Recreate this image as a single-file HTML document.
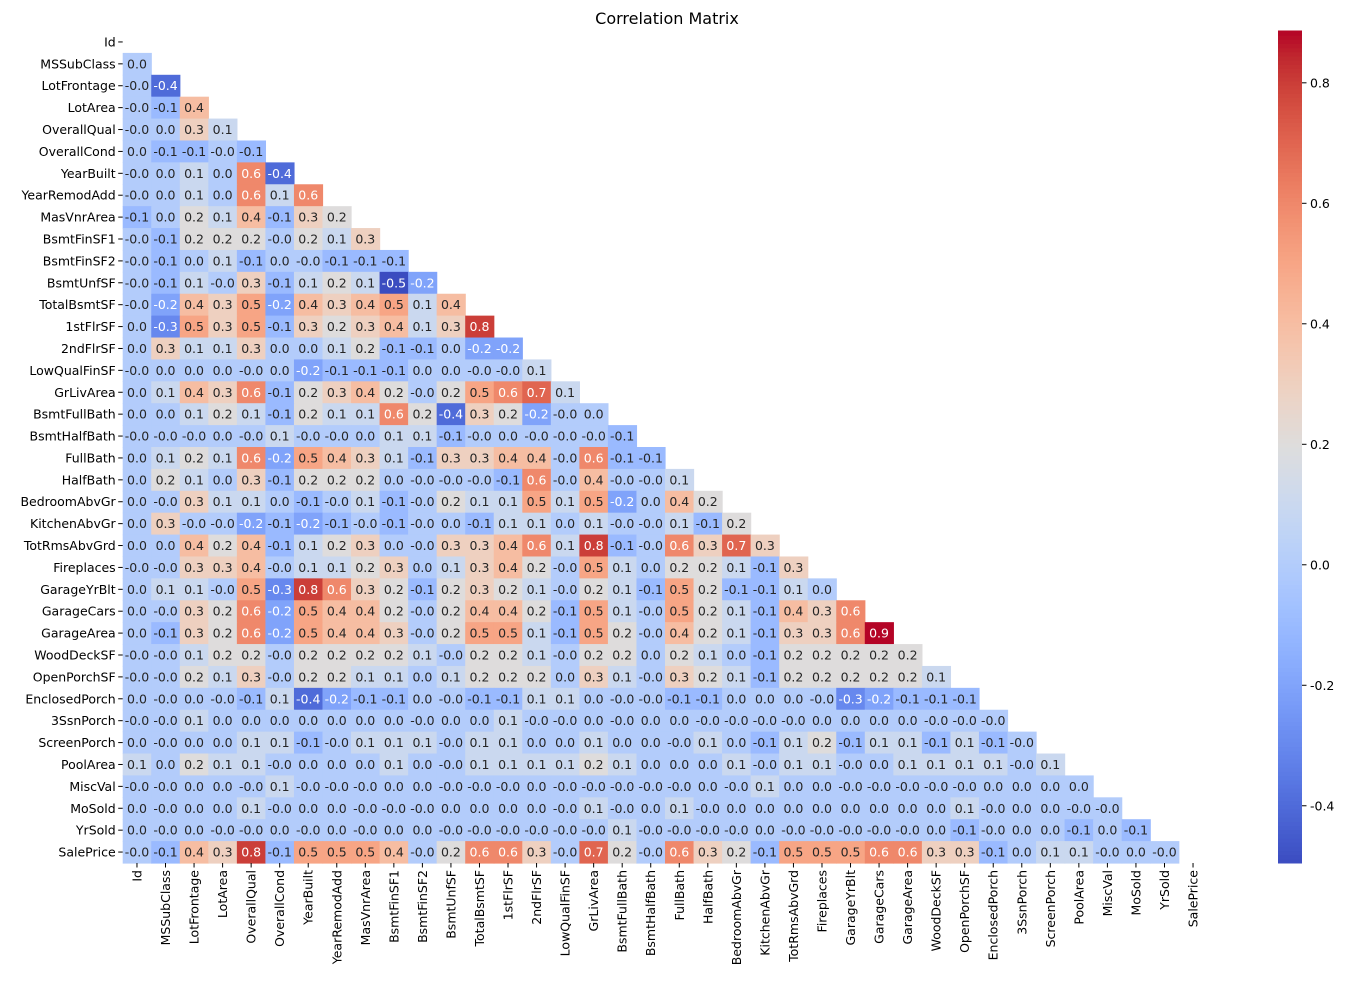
<!DOCTYPE html>
<html><head><meta charset="utf-8"><style>
body{margin:0;background:#fff;font-family:"Liberation Sans","DejaVu Sans",sans-serif}
svg text{font-family:"DejaVu Sans","Liberation Sans",sans-serif}
</style></head><body>
<svg id="chart" width="1371" height="989" xmlns="http://www.w3.org/2000/svg">
<text x="667" y="24" text-anchor="middle" font-size="16">Correlation Matrix</text>
</svg>
<script>
const labels=["Id","MSSubClass","LotFrontage","LotArea","OverallQual","OverallCond","YearBuilt","YearRemodAdd","MasVnrArea","BsmtFinSF1","BsmtFinSF2","BsmtUnfSF","TotalBsmtSF","1stFlrSF","2ndFlrSF","LowQualFinSF","GrLivArea","BsmtFullBath","BsmtHalfBath","FullBath","HalfBath","BedroomAbvGr","KitchenAbvGr","TotRmsAbvGrd","Fireplaces","GarageYrBlt","GarageCars","GarageArea","WoodDeckSF","OpenPorchSF","EnclosedPorch","3SsnPorch","ScreenPorch","PoolArea","MiscVal","MoSold","YrSold","SalePrice"];
const r1=[0.0];
const r2=[-0.0,-0.4];
const r3=[-0.0,-0.1,0.4];
const r4=[-0.0,0.0,0.3,0.1];
const r5=[0.0,-0.1,-0.1,-0.0,-0.1];
const r6=[-0.0,0.0,0.1,0.0,0.6,-0.4];
const r7=[-0.0,0.0,0.1,0.0,0.6,0.1,0.6];
const r8=[-0.1,0.0,0.2,0.1,0.4,-0.1,0.3,0.2];
const r9=[-0.0,-0.1,0.2,0.2,0.2,-0.0,0.2,0.1,0.3];
const r10=[-0.0,-0.1,0.0,0.1,-0.1,0.0,-0.0,-0.1,-0.1,-0.1];
const r11=[-0.0,-0.1,0.1,-0.0,0.3,-0.1,0.1,0.2,0.1,-0.5,-0.2];
const r12=[-0.0,-0.2,0.4,0.3,0.5,-0.2,0.4,0.3,0.4,0.5,0.1,0.4];
const r13=[0.0,-0.3,0.5,0.3,0.5,-0.1,0.3,0.2,0.3,0.4,0.1,0.3,0.8];
const r14=[0.0,0.3,0.1,0.1,0.3,0.0,0.0,0.1,0.2,-0.1,-0.1,0.0,-0.2,-0.2];
const r15=[-0.0,0.0,0.0,0.0,-0.0,0.0,-0.2,-0.1,-0.1,-0.1,0.0,0.0,-0.0,-0.0,0.1];
const r16=[0.0,0.1,0.4,0.3,0.6,-0.1,0.2,0.3,0.4,0.2,-0.0,0.2,0.5,0.6,0.7,0.1];
const r17=[0.0,0.0,0.1,0.2,0.1,-0.1,0.2,0.1,0.1,0.6,0.2,-0.4,0.3,0.2,-0.2,-0.0,0.0];
const r18=[-0.0,-0.0,-0.0,0.0,-0.0,0.1,-0.0,-0.0,0.0,0.1,0.1,-0.1,-0.0,0.0,-0.0,-0.0,-0.0,-0.1];
const r19=[0.0,0.1,0.2,0.1,0.6,-0.2,0.5,0.4,0.3,0.1,-0.1,0.3,0.3,0.4,0.4,-0.0,0.6,-0.1,-0.1];
const r20=[0.0,0.2,0.1,0.0,0.3,-0.1,0.2,0.2,0.2,0.0,-0.0,-0.0,-0.0,-0.1,0.6,-0.0,0.4,-0.0,-0.0,0.1];
const r21=[0.0,-0.0,0.3,0.1,0.1,0.0,-0.1,-0.0,0.1,-0.1,-0.0,0.2,0.1,0.1,0.5,0.1,0.5,-0.2,0.0,0.4,0.2];
const r22=[0.0,0.3,-0.0,-0.0,-0.2,-0.1,-0.2,-0.1,-0.0,-0.1,-0.0,0.0,-0.1,0.1,0.1,0.0,0.1,-0.0,-0.0,0.1,-0.1,0.2];
const r23=[0.0,0.0,0.4,0.2,0.4,-0.1,0.1,0.2,0.3,0.0,-0.0,0.3,0.3,0.4,0.6,0.1,0.8,-0.1,-0.0,0.6,0.3,0.7,0.3];
const r24=[-0.0,-0.0,0.3,0.3,0.4,-0.0,0.1,0.1,0.2,0.3,0.0,0.1,0.3,0.4,0.2,-0.0,0.5,0.1,0.0,0.2,0.2,0.1,-0.1,0.3];
const r25=[0.0,0.1,0.1,-0.0,0.5,-0.3,0.8,0.6,0.3,0.2,-0.1,0.2,0.3,0.2,0.1,-0.0,0.2,0.1,-0.1,0.5,0.2,-0.1,-0.1,0.1,0.0];
const r26=[0.0,-0.0,0.3,0.2,0.6,-0.2,0.5,0.4,0.4,0.2,-0.0,0.2,0.4,0.4,0.2,-0.1,0.5,0.1,-0.0,0.5,0.2,0.1,-0.1,0.4,0.3,0.6];
const r27=[0.0,-0.1,0.3,0.2,0.6,-0.2,0.5,0.4,0.4,0.3,-0.0,0.2,0.5,0.5,0.1,-0.1,0.5,0.2,-0.0,0.4,0.2,0.1,-0.1,0.3,0.3,0.6,0.9];
const r28=[-0.0,-0.0,0.1,0.2,0.2,-0.0,0.2,0.2,0.2,0.2,0.1,-0.0,0.2,0.2,0.1,-0.0,0.2,0.2,0.0,0.2,0.1,0.0,-0.1,0.2,0.2,0.2,0.2,0.2];
const r29=[-0.0,-0.0,0.2,0.1,0.3,-0.0,0.2,0.2,0.1,0.1,0.0,0.1,0.2,0.2,0.2,0.0,0.3,0.1,-0.0,0.3,0.2,0.1,-0.1,0.2,0.2,0.2,0.2,0.2,0.1];
const r30=[0.0,-0.0,0.0,-0.0,-0.1,0.1,-0.4,-0.2,-0.1,-0.1,0.0,-0.0,-0.1,-0.1,0.1,0.1,0.0,-0.0,-0.0,-0.1,-0.1,0.0,0.0,0.0,-0.0,-0.3,-0.2,-0.1,-0.1,-0.1];
const r31=[-0.0,-0.0,0.1,0.0,0.0,0.0,0.0,0.0,0.0,0.0,-0.0,0.0,0.0,0.1,-0.0,-0.0,0.0,-0.0,0.0,0.0,-0.0,-0.0,-0.0,-0.0,0.0,0.0,0.0,0.0,-0.0,-0.0,-0.0];
const r32=[0.0,-0.0,0.0,0.0,0.1,0.1,-0.1,-0.0,0.1,0.1,0.1,-0.0,0.1,0.1,0.0,0.0,0.1,0.0,0.0,-0.0,0.1,0.0,-0.1,0.1,0.2,-0.1,0.1,0.1,-0.1,0.1,-0.1,-0.0];
const r33=[0.1,0.0,0.2,0.1,0.1,-0.0,0.0,0.0,0.0,0.1,0.0,-0.0,0.1,0.1,0.1,0.1,0.2,0.1,0.0,0.0,0.0,0.1,-0.0,0.1,0.1,-0.0,0.0,0.1,0.1,0.1,0.1,-0.0,0.1];
const r34=[-0.0,-0.0,0.0,0.0,-0.0,0.1,-0.0,-0.0,-0.0,0.0,0.0,-0.0,-0.0,-0.0,0.0,-0.0,-0.0,-0.0,-0.0,-0.0,0.0,-0.0,0.1,0.0,0.0,-0.0,-0.0,-0.0,-0.0,-0.0,0.0,0.0,0.0,0.0];
const r35=[0.0,-0.0,0.0,0.0,0.1,-0.0,0.0,0.0,-0.0,-0.0,-0.0,0.0,0.0,0.0,0.0,-0.0,0.1,-0.0,0.0,0.1,-0.0,0.0,0.0,0.0,0.0,0.0,0.0,0.0,0.0,0.1,-0.0,0.0,0.0,-0.0,-0.0];
const r36=[0.0,-0.0,0.0,-0.0,-0.0,0.0,-0.0,0.0,-0.0,0.0,0.0,-0.0,-0.0,-0.0,-0.0,-0.0,-0.0,0.1,-0.0,-0.0,-0.0,-0.0,0.0,-0.0,-0.0,-0.0,-0.0,-0.0,0.0,-0.1,-0.0,0.0,0.0,-0.1,0.0,-0.1];
const r37=[-0.0,-0.1,0.4,0.3,0.8,-0.1,0.5,0.5,0.5,0.4,-0.0,0.2,0.6,0.6,0.3,-0.0,0.7,0.2,-0.0,0.6,0.3,0.2,-0.1,0.5,0.5,0.5,0.6,0.6,0.3,0.3,-0.1,0.0,0.1,0.1,-0.0,0.0,-0.0];
const rows=[[],r1,r2,r3,r4,r5,r6,r7,r8,r9,r10,r11,r12,r13,r14,r15,r16,r17,r18,r19,r20,r21,r22,r23,r24,r25,r26,r27,r28,r29,r30,r31,r32,r33,r34,r35,r36,r37];
const cbTicks=[-0.4,-0.2,0.0,0.2,0.4,0.6,0.8];
const vmin=-0.495, vmax=0.886;

const CM=[[59,76,192],[68,90,204],[77,104,215],[87,117,225],[98,130,234],[108,142,241],[119,154,247],[130,165,251],[141,176,254],[152,185,255],[163,194,255],[174,201,253],[184,208,249],[194,213,244],[204,217,238],[213,219,230],[221,221,221],[229,216,209],[236,211,197],[241,204,184],[245,196,172],[247,187,159],[247,177,147],[247,166,134],[244,154,123],[241,141,111],[236,127,99],[229,112,88],[222,96,77],[213,80,66],[203,62,56],[192,40,47],[180,4,38]];
function cmap(t){t=Math.max(0,Math.min(1,t));const f=t*32,i=Math.min(31,Math.floor(f)),u=f-i;return CM[i].map((c,k)=>Math.round(c+(CM[i+1][k]-c)*u));}
function lum(c){const l=c.map(v=>{v/=255;return v<=0.03928?v/12.92:Math.pow((v+0.055)/1.055,2.4)});return 0.2126*l[0]+0.7152*l[1]+0.0722*l[2];}
const N=labels.length, L=122.7, R=1207.3, T=31, B=863;
const cw=(R-L)/N, ch=(B-T)/N;
const xc=i=>L+cw*(i+0.5), yc=i=>T+ch*(i+0.5);
const svg=document.getElementById('chart'), NS='http://www.w3.org/2000/svg';
function mk(tag,at,txt){const e=document.createElementNS(NS,tag);for(const k in at)e.setAttribute(k,at[k]);if(txt!=null)e.textContent=txt;svg.appendChild(e);return e;}
function fmt(v){return (v===0&&1/v<0)?'-0.0':(v<0&&v>-0.05?'-0.0':v.toFixed(1));}
for(let r=0;r<N;r++){
 const row=rows[r];
 for(let c=0;c<row.length;c++){
  const v=row[c], col=cmap((v-vmin)/(vmax-vmin));
  const rc=mk('rect',{x:L+cw*c,y:T+ch*r,width:cw+0.6,height:ch+0.6,fill:`rgb(${col})`});
  
  
  const tx=mk('text',{x:xc(c),y:yc(r)+4.5,'text-anchor':'middle','font-size':'12.5',fill:lum(col)>0.408?'#262626':'#ffffff'},fmt(v));
  
  
 }
}
for(let i=0;i<N;i++){
 mk('line',{x1:L-4.5,x2:L,y1:yc(i),y2:yc(i),stroke:'#000','stroke-width':1});
 const yl=mk('text',{x:L-7,y:yc(i)+4.5,'text-anchor':'end','font-size':'12.5'},labels[i]);
 
 
 mk('line',{x1:xc(i),x2:xc(i),y1:B,y2:B+4.5,stroke:'#000','stroke-width':1});
 const xl=mk('text',{x:0,y:0,'text-anchor':'end','font-size':'12.5',transform:`translate(${xc(i)+4.5},${B+7}) rotate(-90)`},labels[i]);
 
 
}
// colorbar
const CL=1278, CR=1302;
const cy=v=>B-(v-vmin)/(vmax-vmin)*(B-T);
const steps=200;
for(let s=0;s<steps;s++){
 const v0=vmin+(vmax-vmin)*s/steps, col=cmap(s/steps+0.5/steps);
 const rr=mk('rect',{x:CL,y:cy(v0)-(B-T)/steps-0.5,width:CR-CL,height:(B-T)/steps+1,fill:`rgb(${col})`});
 
 
}
cbTicks.forEach(v=>{
 mk('line',{x1:CR,x2:CR+4.5,y1:cy(v),y2:cy(v),stroke:'#000','stroke-width':1});
 const t=mk('text',{x:CR+8,y:cy(v)+4.5,'font-size':'12.5'},v.toFixed(1));
 
 
});
</script>
</body></html>
